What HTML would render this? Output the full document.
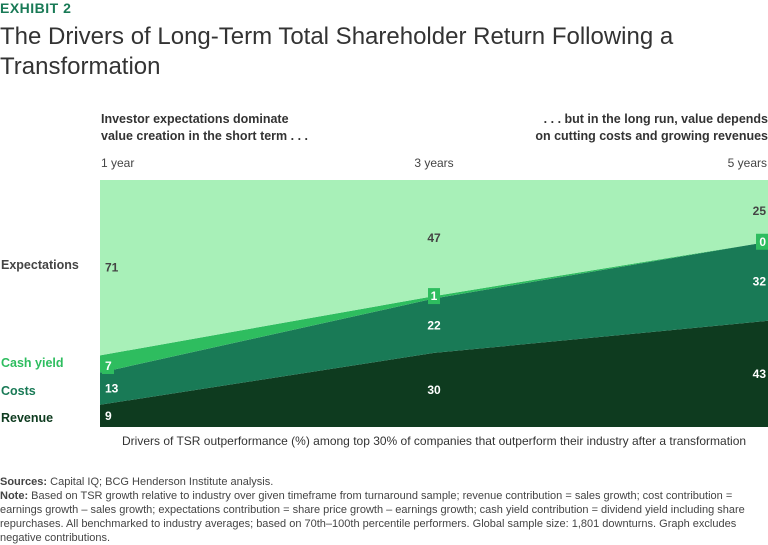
<!DOCTYPE html>
<html><head><meta charset="utf-8"><style>
body{margin:0;width:768px;height:545px;background:#fff;font-family:"Liberation Sans",sans-serif;color:#333;overflow:hidden;position:relative}
.abs{position:absolute;white-space:nowrap}
</style></head><body>
<div class="abs" style="left:0;top:0;font-size:14px;font-weight:bold;color:#197a56;letter-spacing:0.5px">EXHIBIT 2</div>
<div class="abs" style="left:0;top:22px;font-size:24px;line-height:30px;color:#333;white-space:normal;width:740px">The Drivers of Long-Term Total Shareholder Return Following a Transformation</div>
<div class="abs" style="left:101px;top:111px;font-size:12.5px;font-weight:bold;line-height:17px">Investor expectations dominate<br>value creation in the short term . . .</div>
<div class="abs" style="right:0;top:111px;font-size:12.5px;font-weight:bold;line-height:17px;text-align:right">. . . but in the long run, value depends<br>on cutting costs and growing revenues</div>
<svg class="abs" style="left:0;top:0" width="768" height="545" id="chart"></svg>
<div class="abs" style="left:122px;top:434px;font-size:12px">Drivers of TSR outperformance (%) among top 30% of companies that outperform their industry after a transformation</div>
<div class="abs" style="left:0;top:475px;font-size:11px;line-height:14px;white-space:normal;width:768px;color:#444"><b>Sources:</b> Capital IQ; BCG Henderson Institute analysis.<br><b>Note:</b> Based on TSR growth relative to industry over given timeframe from turnaround sample; revenue contribution = sales growth; cost contribution = earnings growth – sales growth; expectations contribution = share price growth – earnings growth; cash yield contribution = dividend yield including share repurchases. All benchmarked to industry averages; based on 70th–100th percentile performers. Global sample size: 1,801 downturns. Graph excludes negative contributions.</div>
<script>
const periods=["1 year","3 years","5 years"];
const revenue=[9,30,43];
const costs=[13,22,32];
const cashYield=[7,1,0];
const expectations=[71,47,25];
const seriesNames=["Revenue","Costs","Cash yield","Expectations"];
const NS="http://www.w3.org/2000/svg";
const svg=document.getElementById('chart');
const X0=100,X1=768,Y0=427,Y1=180;
const xs=i=>X0+(X1-X0)*i/(periods.length-1);
const ys=v=>Y0-(Y0-Y1)*v/100;
const series=[revenue,costs,cashYield,expectations];
const fills=["#0e3b1f","#197a56","#2ebd5f","#a8f0b8"];
const names=["area-revenue","area-costs","area-cash-yield","area-expectations"];
const labelColors=["#fff","#fff","#fff","#444"];
const cum=periods.map(()=>0);
function mk(t,a){const e=document.createElementNS(NS,t);for(const k in a)e.setAttribute(k,a[k]);svg.appendChild(e);return e;}
const bases=[];
series.forEach((s,si)=>{
  const lo=cum.slice();const hi=cum.map((c,i)=>c+s[i]);
  let d="";
  hi.forEach((v,i)=>{d+=(i?"L":"M")+xs(i)+","+ys(v);});
  for(let i=lo.length-1;i>=0;i--)d+="L"+xs(i)+","+ys(lo[i]);
  const p=mk("path",{d:d+"Z",fill:fills[si]});
  
  
  bases.push({lo,hi});
  hi.forEach((v,i)=>cum[i]=v);
});
series.forEach((s,si)=>{
  s.forEach((v,i)=>{
    const {lo,hi}=bases[si];
    const last=i===periods.length-1;
    let x=i===0?105:(last?766:xs(i));
    const anchor=i===0?"start":(last?"end":"middle");
    let y;
    if(si===2){
      const cy=i===0?ys((lo[i]+hi[i])/2)+2:ys(hi[i]);
      const tw=String(v).length*7+5;
      const bx=i===0?x-3:(last?x-tw+2:x-tw/2);
      const r=mk("rect",{x:bx,y:cy-8,width:tw,height:16,fill:"#2ebd5f"});
      
      
      y=cy+4;
    } else {
      y=ys((lo[i]+hi[i])/2)+4;
    }
    const t=mk("text",{x:x,y:y,"text-anchor":anchor,fill:labelColors[si],"font-size":"12","font-weight":"bold","font-family":"Liberation Sans, sans-serif"});
    t.textContent=v;
    
    
  });
});
periods.forEach((p,i)=>{
  const anchor=i===0?"start":(i===periods.length-1?"end":"middle");
  const x=i===0?101:(i===periods.length-1?767:xs(i));
  const t=mk("text",{x:x,y:167,"text-anchor":anchor,"font-size":"12",fill:"#444","font-family":"Liberation Sans, sans-serif"});
  t.textContent=p;
  
  
});
const legY=[269,367,395,422];
const legC=["#444","#2ebd5f","#197a56","#0e3b1f"];
const legT=["Expectations","Cash yield","Costs","Revenue"];
legT.forEach((n,i)=>{
  const t=mk("text",{x:1,y:legY[i],"font-size":"12.5","font-weight":"bold",fill:legC[i],"font-family":"Liberation Sans, sans-serif"});
  t.textContent=n;
  
  
});
</script>
</body></html>
